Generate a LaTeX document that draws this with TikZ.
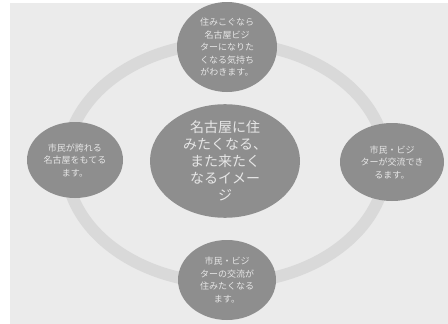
\documentclass[tikz,border=0pt]{standalone}
\usepackage{fontspec}
\usepackage{xcolor}
\usetikzlibrary{positioning,shapes.geometric}
\newfontfamily\jpfont{Noto Sans CJK JP}
\definecolor{paper}{HTML}{EBEBEB}
\definecolor{ring}{HTML}{D9D9D9}
\definecolor{bubble}{HTML}{8E8E8E}
\definecolor{ink}{HTML}{E6E6E6}

\begin{document}
\begin{tikzpicture}[
  x=1pt,y=-1pt,
  bigbub/.style={ellipse,fill=bubble,minimum width=150pt,minimum height=100pt,
              inner sep=0pt,align=center,text=ink,
              font=\jpfont\fontsize{14}{17}\selectfont},
  smallbub/.style={ellipse,fill=bubble,minimum width=100pt,minimum height=82pt,
              inner sep=0pt,align=center,text=ink,
              font=\jpfont\fontsize{9}{12.5}\selectfont}
]
\useasboundingbox (0,0) rectangle (448,324);
\fill[white] (0,0) rectangle (448,324);
\fill[paper] (10,3) rectangle (448,324);
% ring behind the bubbles
\draw[ring,line width=12pt] (226,163) ellipse [x radius=160,y radius=120];
\node[bigbub] (image) at (225,161) {名古屋に住\\みたくなる、\\また来たく\\なるイメー\\ジ};
\node[smallbub,minimum height=90pt] (top) at (227,47) {住みこぐなら\\名古屋ビジ\\ターになりた\\くなる気持ち\\がわきます。};
\node[smallbub,minimum width=96pt,minimum height=76pt] (left) at (75,160) {市民が誇れる\\名古屋をもてる\\ます。};
\node[smallbub,minimum width=104pt,minimum height=78pt] (right) at (392,162) {市民・ビジ\\ターが交流でき\\るます。};
\node[smallbub,minimum width=98pt,minimum height=80pt] (bottom) at (227,280) {市民・ビジ\\ターの交流が\\住みたくなる\\ます。};
\end{tikzpicture}
\end{document}
